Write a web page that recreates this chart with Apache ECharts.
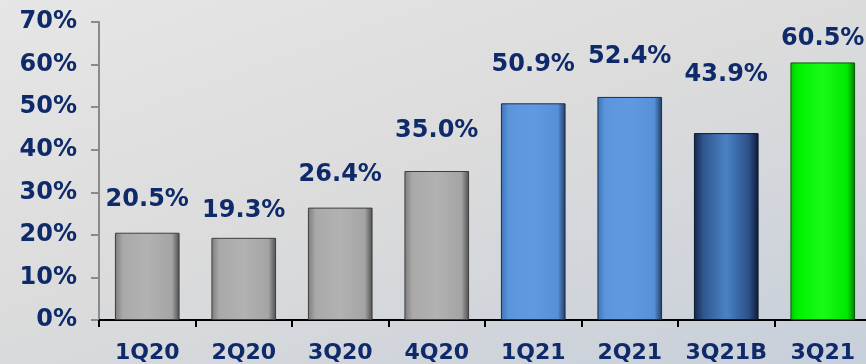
<!DOCTYPE html>
<html>
<head>
<meta charset="utf-8">
<script src="https://cdn.jsdelivr.net/npm/echarts@6/dist/echarts.min.js"></script>
<style>
html,body{margin:0;padding:0;}
body{width:866px;height:364px;background:linear-gradient(160deg,#e6e6e6 0%,#dcdcdc 45%,#c7cfda 100%);overflow:hidden;}
#c{width:880px;height:364px;}
</style>
</head>
<body>
<div id="c"></div>
<script>
const categories = ['1Q20','2Q20','3Q20','4Q20','1Q21','2Q21','3Q21B','3Q21'];
const values = [20.5, 19.3, 26.4, 35.0, 50.9, 52.4, 43.9, 60.5];
const yTicks = [0,10,20,30,40,50,60,70];
const barKinds = ['gray','gray','gray','gray','blue','blue','navy','green'];

const NAVY = '#0e2a6a';
const FONT = '"DejaVu Sans", Verdana, sans-serif';
// label gap above each bar (style only)
const LABEL_GAP = [21, 15, 21, 28, 27, 28, 46, 12];

function grad(stops){
  return {type:'linear',x:0,y:0,x2:1,y2:0,colorStops:stops.map(c=>({offset:c[0],color:c[1]}))};
}
const styles = {
  gray:{color:grad([[0,'#7c7c7c'],[0.12,'#a9a9a9'],[0.5,'#b2b2b2'],[0.88,'#a4a4a4'],[1,'#4e4e4e']]),borderColor:'#3e3e3e'},
  blue:{color:grad([[0,'#3f72b5'],[0.12,'#5b96dc'],[0.5,'#6099df'],[0.88,'#5690d6'],[1,'#1f3b63']]),borderColor:'#1c2f4f'},
  navy:{color:grad([[0,'#14264d'],[0.15,'#30578f'],[0.5,'#4b82c6'],[0.85,'#2c5088'],[1,'#0c1a36']]),borderColor:'#0b1730'},
  green:{color:grad([[0,'#00c800'],[0.12,'#00f200'],[0.5,'#1afa1a'],[0.88,'#00e800'],[1,'#007a00']]),borderColor:'#005a00'}
};

const chart = echarts.init(document.getElementById('c'), null, {renderer:'canvas'});
chart.setOption({
  backgroundColor:'transparent',
  animation:false,
  grid:{left:99, top:22, width:772, bottom:44, containLabel:false},
  xAxis:{
    type:'category', data:categories,
    axisLine:{lineStyle:{color:'#000',width:2}},
    axisTick:{show:true,length:7,lineStyle:{color:'#000',width:2},alignWithLabel:false},
    axisLabel:{color:NAVY,fontFamily:FONT,fontWeight:'bold',fontSize:22,margin:22,interval:0}
  },
  yAxis:{
    type:'value', min:yTicks[0], max:yTicks[yTicks.length-1], interval:10,
    splitLine:{show:false},
    axisLine:{show:true,lineStyle:{color:'#8a8a8a',width:2}},
    axisTick:{show:true,length:8,lineStyle:{color:'#8a8a8a',width:2}},
    axisLabel:{color:NAVY,fontFamily:FONT,fontWeight:'bold',fontSize:24,margin:22,formatter:'{value}%'}
  },
  series:[{
    type:'bar',
    barCategoryGap:'33%',
    data:values.map((v,i)=>({
      value:v,
      itemStyle:Object.assign({borderWidth:1},styles[barKinds[i]]),
      label:{distance:LABEL_GAP[i]}
    })),
    label:{show:true,position:'top',color:NAVY,fontFamily:FONT,fontWeight:'bold',fontSize:24,
      formatter:p=>p.value.toFixed(1)+'%'}
  }]
});
</script>
</body>
</html>
